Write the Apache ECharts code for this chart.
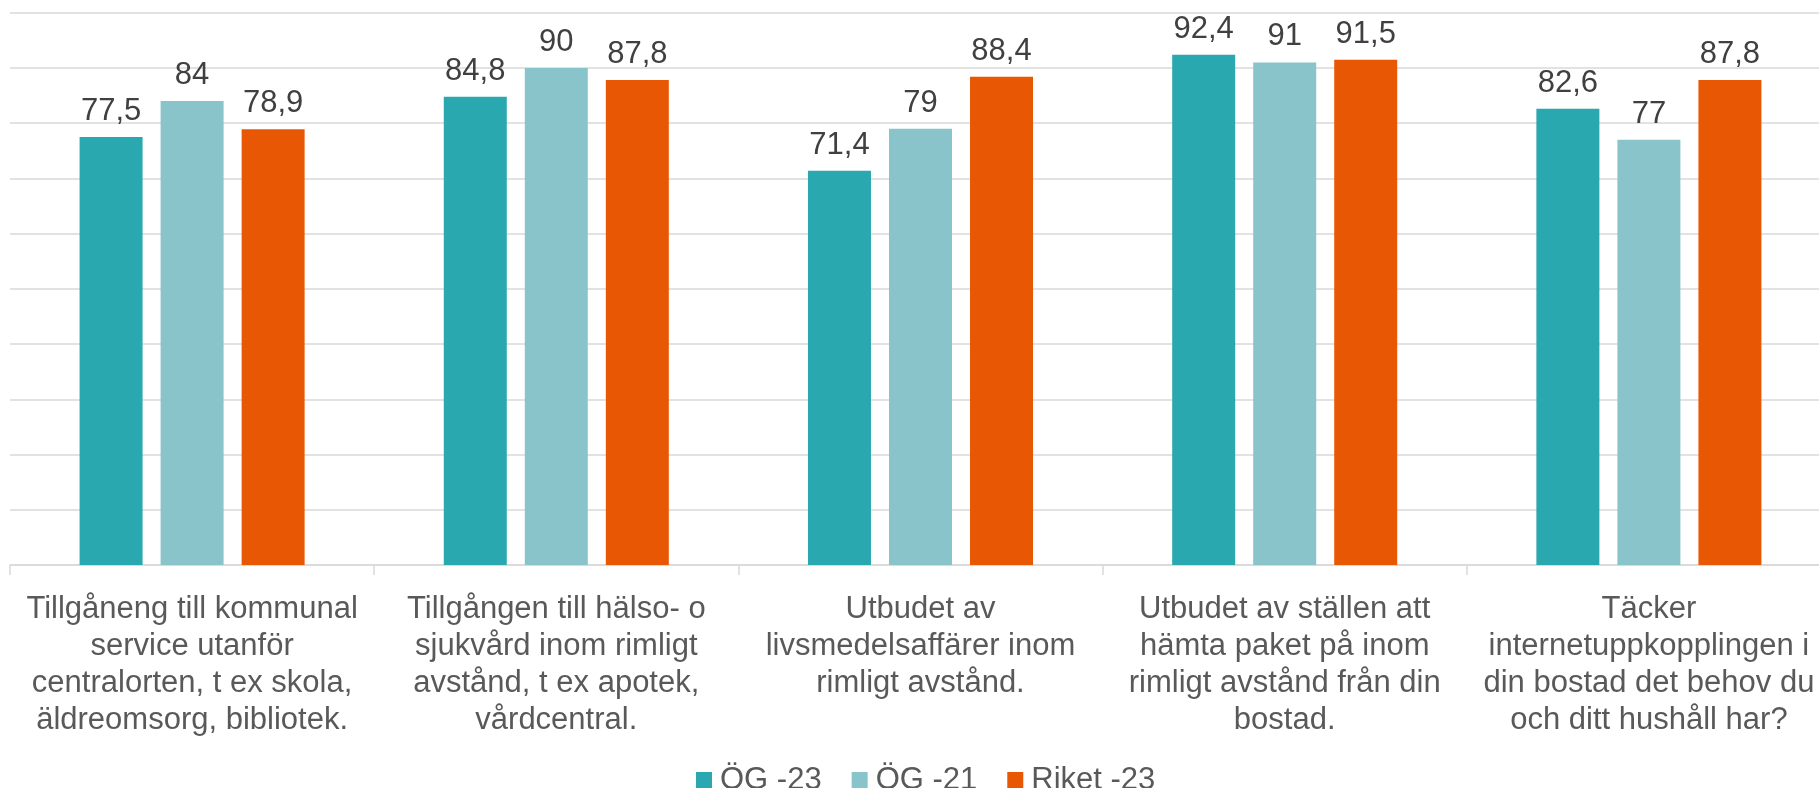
<!DOCTYPE html>
<html>
<head>
<meta charset="utf-8">
<script src="https://cdn.jsdelivr.net/npm/echarts@6/dist/echarts.min.js"></script>
<style>
  html, body { margin: 0; padding: 0; background: #fff; }
  #main { width: 1819px; height: 788px; }
</style>
</head>
<body>
<div id="main"></div>
<script>
const categories = [
  'Tillgåneng till kommunal\nservice utanför\ncentralorten, t ex skola,\näldreomsorg, bibliotek.',
  'Tillgången till hälso- o\nsjukvård inom rimligt\navstånd, t ex apotek,\nvårdcentral.',
  'Utbudet av\nlivsmedelsaffärer inom\nrimligt avstånd.',
  'Utbudet av ställen att\nhämta paket på inom\nrimligt avstånd från din\nbostad.',
  'Täcker\ninternetuppkopplingen i\ndin bostad det behov du\noch ditt hushåll har?'
]
const seriesNames = ['ÖG -23', 'ÖG -21', 'Riket -23']
const og23 = [77.5, 84.8, 71.4, 92.4, 82.6]
const og21 = [84, 90, 79, 91, 77]
const riket23 = [78.9, 87.8, 88.4, 91.5, 87.8]
const colors = ['#2AA8B0', '#89C4CB', '#E85804']

const font = 'Liberation Sans, Arial, sans-serif'
const chartDom = document.getElementById('main')
const myChart = echarts.init(chartDom)

const makeSeries = (name, data, color) => ({
  name: name,
  type: 'bar',
  data: data,
  barWidth: 63,
  barGap: '28.6%',
  itemStyle: { color: color },
  label: {
    show: true,
    position: 'top',
    distance: 10,
    color: '#404040',
    fontSize: 31,
    fontFamily: font,
    formatter: p => String(p.value).replace('.', ',')
  }
})

const option = {
  animation: false,
  textStyle: { fontFamily: font },
  color: colors,
  grid: {
    left: 10,
    top: 12.7,
    width: 1821,
    height: 552.3,
    containLabel: false,
    outerBoundsMode: 'none'
  },
  legend: {
    left: 691,
    top: 758,
    icon: 'rect',
    itemWidth: 16,
    itemHeight: 16,
    itemGap: 30,
    textStyle: {
      color: '#595959',
      fontSize: 31,
      fontFamily: font,
      lineHeight: 34,
      padding: [0, 0, 0, 3]
    },
    data: seriesNames
  },
  xAxis: {
    type: 'category',
    data: categories,
    axisLine: { lineStyle: { color: '#d9d9d9', width: 1.5 } },
    axisTick: { show: true, length: 10, lineStyle: { color: '#d9d9d9', width: 1.5 } },
    axisLabel: {
      interval: 0,
      margin: 26,
      color: '#595959',
      fontSize: 31,
      lineHeight: 37,
      fontFamily: font,
      align: 'center'
    }
  },
  yAxis: {
    type: 'value',
    min: 0,
    max: 100,
    interval: 10,
    axisLabel: { show: false },
    axisLine: { show: false },
    axisTick: { show: false },
    splitLine: { lineStyle: { color: '#d9d9d9', width: 1.5 } }
  },
  series: [
    makeSeries(seriesNames[0], og23, colors[0]),
    makeSeries(seriesNames[1], og21, colors[1]),
    makeSeries(seriesNames[2], riket23, colors[2])
  ]
}
option && myChart.setOption(option)
</script>
</body>
</html>
